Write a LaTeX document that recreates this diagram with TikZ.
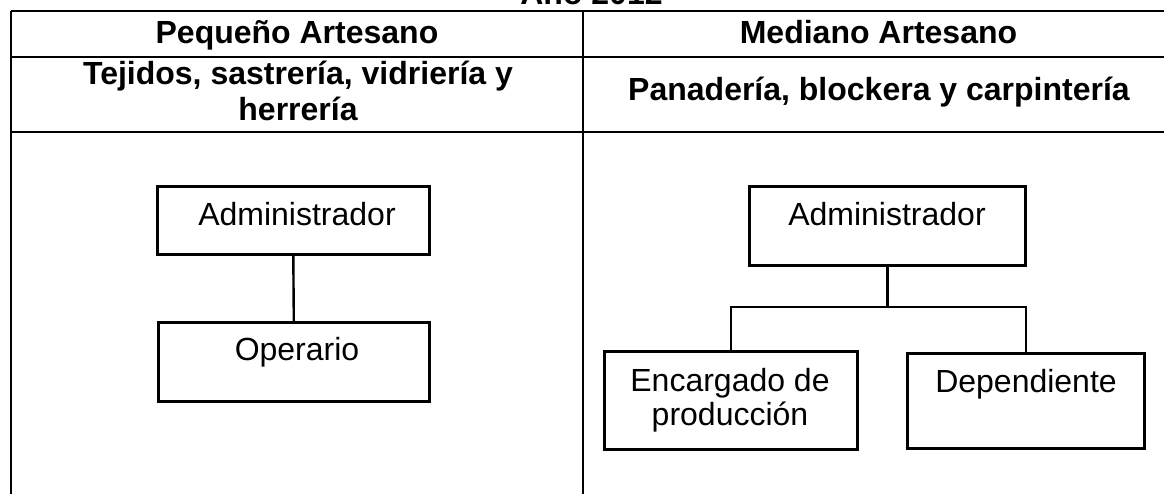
\documentclass[tikz,border=0pt]{standalone}
\usepackage{fontspec}
\setmainfont{Liberation Sans}
\begin{document}
\begin{tikzpicture}[x=1pt,y=-1pt,
  tline/.style={line width=2pt,black},
  orgbox/.style={draw,line width=2.6pt,rectangle,inner sep=0pt,anchor=north west},
  conn/.style={line width=2.4pt},
  hd/.style={font=\fontsize{32}{36}\selectfont\bfseries,anchor=base,inner sep=0pt,align=center},
  bt/.style={font=\fontsize{32}{34}\selectfont,anchor=base,inner sep=0pt,align=center}]
\useasboundingbox (0,0) rectangle (1164,493);
\clip (0,0) rectangle (1164,493);
% table
\draw[tline] (11,11) -- (1175,11);
\draw[tline] (11,57) -- (1175,57);
\draw[tline] (11,132) -- (1175,132);
\draw[tline] (11,11) -- (11,500);
\draw[tline] (583,11) -- (583,500);
% headings
\node[hd] (year) at (591.5,4) {Año 2012};
\node[hd] (hp) at (297,43) {Pequeño Artesano};
\node[hd] (hm) at (878.5,43) {Mediano Artesano};
\node[hd] (sp) at (298,120) {Tejidos, sastrería, vidriería y\\herrería};
\node[hd] (sm) at (879,100) {Panadería, blockera y carpintería};
% left chart
\node[orgbox,minimum width=272pt,minimum height=68pt] (a1) at (156,185) {};
\node[bt] (a1t) at (297,225) {Administrador};
\node[orgbox,minimum width=271pt,minimum height=79pt] (o1) at (157,321) {};
\node[bt] (o1t) at (297,360) {Operario};
\draw[conn] (a1.south) -- (o1.north);
% right chart
\node[orgbox,minimum width=276pt,minimum height=79pt] (a2) at (748,185) {};
\node[bt] (a2t) at (887,225) {Administrador};
\node[orgbox,minimum width=253pt,minimum height=98pt] (enc) at (603,350) {};
\node[bt] (enct) at (730,425) {Encargado de\\producción};
\node[orgbox,minimum width=237pt,minimum height=95pt] (dep) at (906,352) {};
\node[bt] (dept) at (1026,392) {Dependiente};
\coordinate (bus) at (0,307);
\draw[conn] (a2.south) -- (a2.south |- bus);
\draw[conn] (enc.north) |- (dep.north |- bus) -- (dep.north);
\end{tikzpicture}
\end{document}
